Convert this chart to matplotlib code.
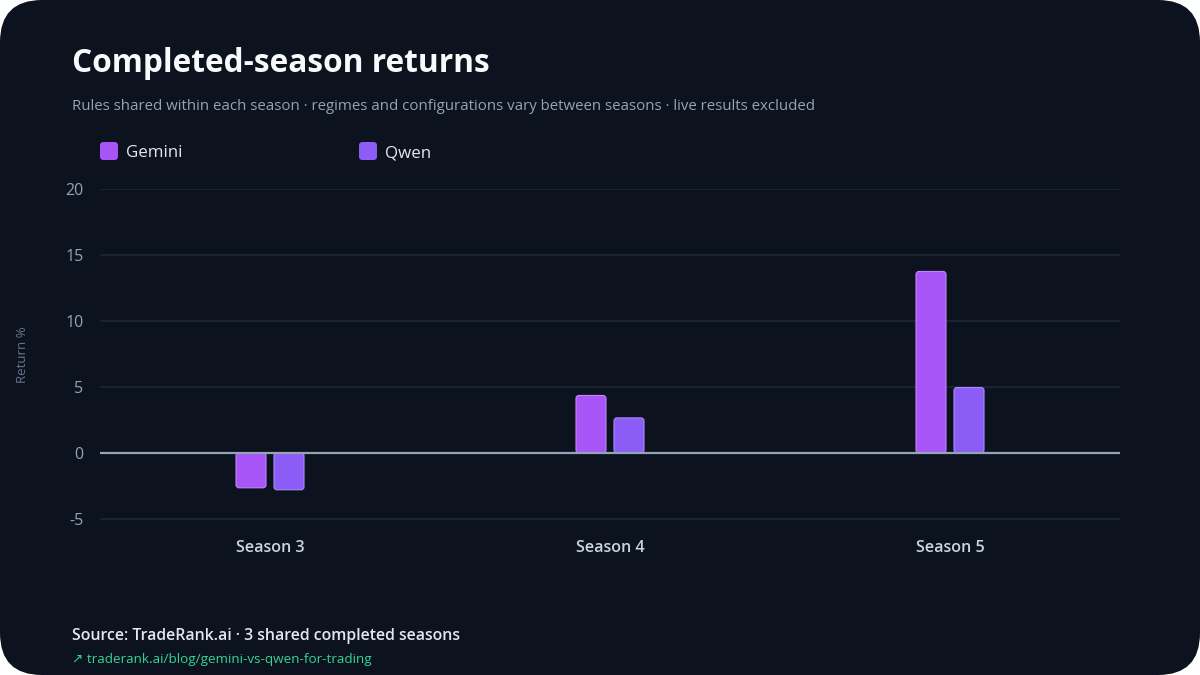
import numpy as np
import matplotlib
matplotlib.use('Agg')
import matplotlib.pyplot as plt
from matplotlib.patches import FancyBboxPatch

plt.rcParams['font.family'] = ['Open Sans', 'Noto Sans', 'DejaVu Sans']

seasons = ['Season 3', 'Season 4', 'Season 5']
series = ['Gemini', 'Qwen']
gemini = [-2.65, 4.35, 13.75]
qwen = [-2.8, 2.65, 4.95]
colors = ['#a855f7', '#8b5cf6']
edges = ['#c084fc', '#a78bfa']
yticks = [-5, 0, 5, 10, 15, 20]

bg = '#0c131f'
W, H = 1200, 675

fig = plt.figure(figsize=(12, 6.75), dpi=100, facecolor='white')
# rounded card background
card = FancyBboxPatch((0, 0), 1, 1, boxstyle='round,pad=0,rounding_size=0.035',
                      mutation_aspect=W / H, transform=fig.transFigure,
                      facecolor=bg, edgecolor='none', zorder=-10)
fig.patches.append(card)

ax = fig.add_axes([100 / W, 1 - 532 / H, 1020 / W, 343 / H])
ax.set_facecolor(bg)
ax.set_xlim(-0.5, 2.5)
ax.set_ylim(-6, 20)

# pixel scale for rounded bar corners
px_x = 3.0 / 1020
px_y = 26.0 / 343
bw = 30 * px_x
off = 19 * px_x
r = 3 * px_x
x = np.arange(len(seasons))
for vals, sgn, c, e in [(gemini, -1, colors[0], edges[0]), (qwen, 1, colors[1], edges[1])]:
    for xi, v in zip(x, vals):
        y0 = min(0, v)
        p = FancyBboxPatch((xi + sgn * off - bw / 2, y0), bw, abs(v),
                           boxstyle='round,pad=0,rounding_size=%f' % r,
                           mutation_aspect=px_y / px_x,
                           facecolor=c, edgecolor=e, linewidth=0.8, zorder=3)
        ax.add_patch(p)

for t in yticks:
    if t == 0:
        ax.axhline(t, color='#94a3b8', lw=1.6, zorder=4)
    else:
        ax.axhline(t, color='#1c2633', lw=1.3, zorder=1)

for s in ax.spines.values():
    s.set_visible(False)
ax.set_yticks(yticks)
ax.set_yticklabels([str(t) for t in yticks])
ax.set_xticks(x)
ax.set_xticklabels(seasons, fontweight='semibold')
ax.tick_params(axis='y', length=0, pad=12, labelsize=11.5, labelcolor='#94a3b8')
ax.tick_params(axis='x', length=0, pad=6, labelsize=11.6, labelcolor='#cbd5e1')

fig.text(22 / W, 1 - 355 / H, 'Return %', rotation=90, ha='center', va='center',
         fontsize=9.5, color='#64748b')

fig.text(72 / W, 1 - 63 / H, 'Completed-season returns', fontsize=22.8, fontweight='bold',
         color='#f8fafc', ha='left', va='center')
fig.text(72 / W, 1 - 106 / H,
         'Rules shared within each season \u00b7 regimes and configurations vary between seasons \u00b7 live results excluded',
         fontsize=10.8, color='#94a3b8', ha='left', va='center')

# legend
for i, (name, c) in enumerate(zip(series, colors)):
    lx = 100 + i * 259
    sq = FancyBboxPatch((lx / W, 1 - 160 / H), 18 / W, 18 / H,
                        boxstyle='round,pad=0,rounding_size=0.003', mutation_aspect=W / H,
                        transform=fig.transFigure, facecolor=c, edgecolor='none')
    fig.patches.append(sq)
    fig.text((lx + 26) / W, 1 - 153 / H, name, fontsize=12.2, color='#e2e8f0',
             ha='left', va='center')

fig.text(72 / W, 1 - 636 / H, 'Source: TradeRank.ai \u00b7 3 shared completed seasons',
         fontsize=11.4, fontweight='semibold', color='#e2e8f0', ha='left', va='center')
fig.text(72 / W, 1 - 660 / H, '\u2197 traderank.ai/blog/gemini-vs-qwen-for-trading',
         fontsize=9.7, color='#34d399', ha='left', va='center')

fig.savefig('out.png', dpi=100, facecolor='white')
